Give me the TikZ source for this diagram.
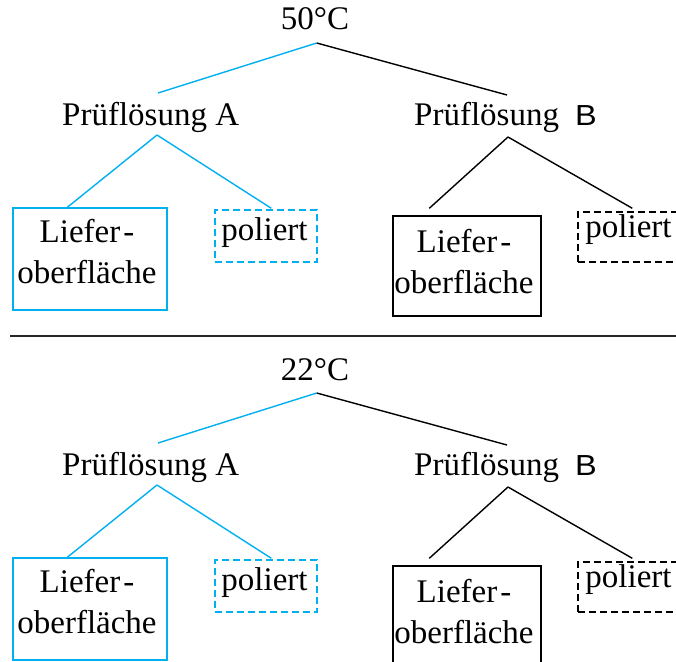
\documentclass[tikz,border=0pt]{standalone}
\usepackage{fontspec}
\setmainfont{Liberation Serif}
\newfontfamily\arialfont{Liberation Sans}
\usetikzlibrary{calc}
\definecolor{skyblue}{RGB}{0,176,240}
\tikzset{
  lbl/.style={inner sep=0pt, font=\fontsize{33}{40}\selectfont},
  bluecon/.style={draw=skyblue, line width=1.4pt},
  blackcon/.style={draw=black, line width=1.4pt},
  bluebox/.style={draw=skyblue, line width=1.4pt, inner sep=0pt},
  blackbox/.style={draw=black, line width=1.4pt, inner sep=0pt},
  dashbox/.style={dash pattern=on 7pt off 4pt},
  seprule/.style={draw=black!85, line width=2pt}
}
\newcommand\drawtree[3]{%
\begin{scope}[yshift=-#3pt]
  \node[lbl, anchor=base] (#1T) at (315,30) {#2};
  \node[lbl, anchor=base west] (#1PA) at (62,125) {Prüflösung A};
  \node[lbl, anchor=base west] (#1PB) at (414,125) {Prüflösung\hspace{16pt}\scalebox{1.12}[1]{\arialfont\fontsize{29}{32}\selectfont B}};
  \node[bluebox, minimum width=154pt, minimum height=102pt] (#1LA) at (90,259) {};
  \node[lbl, anchor=north, align=center, font=\fontsize{33}{41.5}\selectfont] (#1LAt) at (87,218.7) {Liefer\kern3pt-\\oberfläche};
  \node[bluebox, dashbox, minimum width=102pt, minimum height=52pt] (#1PoA) at (266,236) {};
  \node[lbl, anchor=base] (#1PoAt) at (264.5,240) {poliert};
  \node[blackbox, minimum width=148pt, minimum height=100pt] (#1LB) at (467,266) {};
  \node[lbl, anchor=north, align=center, font=\fontsize{33}{41.5}\selectfont] (#1LBt) at (464,228.7) {Liefer\kern3pt-\\oberfläche};
  \node[blackbox, dashbox, minimum width=102pt, minimum height=50pt] (#1PoB) at (629,237) {};
  \node[lbl, anchor=base] (#1PoBt) at (628.5,237) {poliert};
  \draw[bluecon] ($(#1T.base)+(1.7,13)$) -- ($(#1PA.base west)+(96,-32)$);
  \draw[blackcon] ($(#1T.base)+(1.7,13)$) -- ($(#1PB.base west)+(93,-30)$);
  \draw[bluecon] ($(#1PA.base west)+(95,10)$) -- ($(#1LA.north west)+(55,0)$);
  \draw[bluecon] ($(#1PA.base west)+(95,10)$) -- ($(#1PoA.north west)+(57,-1)$);
  \draw[blackcon] ($(#1PB.base west)+(94,12)$) -- ($(#1LB.north west)+(37,-7)$);
  \draw[blackcon] ($(#1PB.base west)+(94,12)$) -- ($(#1PoB.north west)+(55,-3)$);
\end{scope}}
\begin{document}
\begin{tikzpicture}[x=1pt,y=-1pt]
  \useasboundingbox (0,0) rectangle (676,661);
  \clip (0,0) rectangle (676,661);
  \drawtree{u}{50°C}{0}
  \coordinate (sepL) at (10,336);
  \coordinate (sepR) at (676,336);
  \draw[seprule] (sepL) -- (sepR);
  \drawtree{d}{22°C}{350}
\end{tikzpicture}
\end{document}
